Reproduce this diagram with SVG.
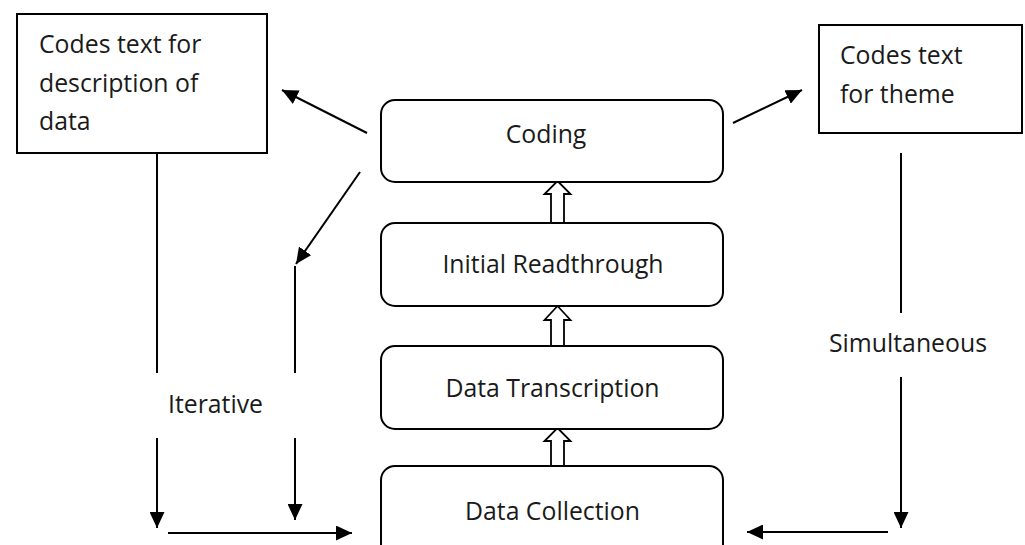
<svg xmlns="http://www.w3.org/2000/svg" width="1025" height="545" viewBox="0 0 1025 545">
<style>
.box{fill:#fff;stroke:#000;stroke-width:2}
.txt{font-family:"Open Sans","Noto Sans",sans-serif;font-size:24.8px;fill:#1a1a1a}
.ln{stroke:#000;stroke-width:2;fill:none}
.hol{fill:#fff;stroke:#000;stroke-width:1.8;stroke-linejoin:miter}
</style>
<defs>
<marker id="ah" viewBox="0 0 16 15" refX="16" refY="7.5" markerWidth="16" markerHeight="15" markerUnits="userSpaceOnUse" orient="auto">
<path d="M0,0 L16,7.5 L0,15 Z" fill="#000"/>
</marker>
</defs>
<rect width="1025" height="545" fill="#fff"/>
<g id="connectors">
<line class="ln" x1="367" y1="133" x2="282" y2="90" marker-end="url(#ah)"/>
<line class="ln" x1="733" y1="123" x2="802" y2="90" marker-end="url(#ah)"/>
<line class="ln" x1="360" y1="172" x2="296" y2="264" marker-end="url(#ah)"/>
<line class="ln" x1="157" y1="153" x2="157" y2="373"/>
<line class="ln" x1="157" y1="438" x2="157" y2="528" marker-end="url(#ah)"/>
<line class="ln" x1="295" y1="266" x2="295" y2="373"/>
<line class="ln" x1="295" y1="438" x2="295" y2="520" marker-end="url(#ah)"/>
<line class="ln" x1="168" y1="533" x2="352" y2="533" marker-end="url(#ah)"/>
<line class="ln" x1="901" y1="153" x2="901" y2="313"/>
<line class="ln" x1="901" y1="377" x2="901" y2="528" marker-end="url(#ah)"/>
<line class="ln" x1="888" y1="532" x2="747" y2="532" marker-end="url(#ah)"/>
<polygon class="hol" points="557.5,181 570.5,194 564,194 564,223 551,223 551,194 544.5,194"/>
<polygon class="hol" points="557.5,306 570.5,320 564,320 564,346 551,346 551,320 544.5,320"/>
<polygon class="hol" points="557.5,428 570.5,441 564,441 564,466 551,466 551,441 544.5,441"/>
<text class="txt" x="168" y="413">Iterative</text>
<text class="txt" x="829" y="352">Simultaneous</text>
</g>
<g id="desc">
<rect class="box" x="17" y="14" width="250" height="139"/>
<text class="txt" x="39" y="53">Codes text for</text>
<text class="txt" x="39" y="92">description of</text>
<text class="txt" x="39" y="130">data</text>
</g>
<g id="theme">
<rect class="box" x="819" y="25" width="203" height="108"/>
<text class="txt" x="840" y="64">Codes text</text>
<text class="txt" x="840" y="103">for theme</text>
</g>
<g id="coding">
<rect class="box" x="381" y="100" width="342" height="82" rx="14"/>
<text class="txt" x="546" y="143" text-anchor="middle">Coding</text>
</g>
<g id="readthrough">
<rect class="box" x="381" y="223" width="342" height="83" rx="14"/>
<text class="txt" x="553" y="273" text-anchor="middle">Initial Readthrough</text>
</g>
<g id="transcription">
<rect class="box" x="381" y="346" width="342" height="83" rx="14"/>
<text class="txt" x="552.5" y="397" text-anchor="middle">Data Transcription</text>
</g>
<g id="collection">
<rect class="box" x="381" y="466" width="342" height="100" rx="14"/>
<text class="txt" x="552.5" y="520" text-anchor="middle">Data Collection</text>
</g>
</svg>
